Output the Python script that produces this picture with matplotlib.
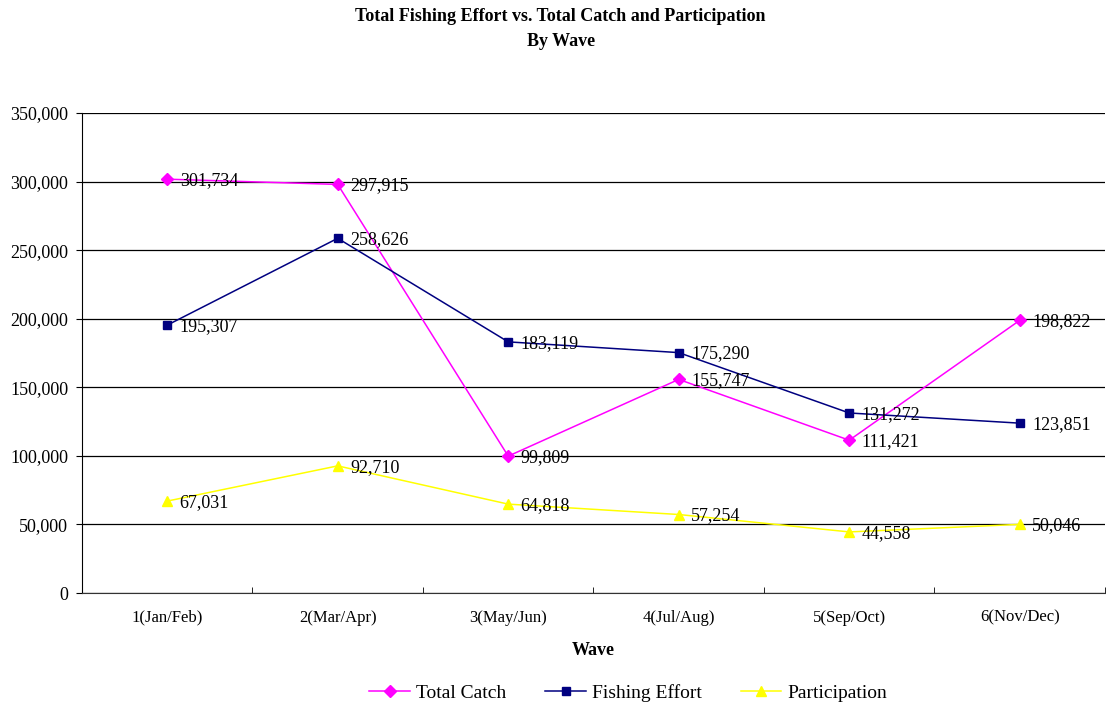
import matplotlib.pyplot as plt
import numpy as np
from matplotlib.ticker import FuncFormatter, MultipleLocator

plt.rcParams['font.family'] = ['Liberation Serif', 'DejaVu Serif']

waves = ['1(Jan/Feb)', '2(Mar/Apr)', '3(May/Jun)', '4(Jul/Aug)', '5(Sep/Oct)', '6(Nov/Dec)']
total_catch = [301734, 297915, 99809, 155747, 111421, 198822]
fishing_effort = [195307, 258626, 183119, 175290, 131272, 123851]
participation = [67031, 92710, 64818, 57254, 44558, 50046]

fig = plt.figure(figsize=(11.06, 7.07), dpi=100)
ax = fig.add_axes([0.0741, 0.1612, 0.9250, 0.6790])

x = np.arange(len(waves))
series = [
    ('Total Catch', total_catch, '#ff00ff', 'D', 6),
    ('Fishing Effort', fishing_effort, '#000080', 's', 6),
    ('Participation', participation, '#ffff00', '^', 7),
]
for name, vals, col, mk, ms in series:
    ax.plot(x, vals, color=col, marker=mk, markersize=ms, linewidth=1.1, label=name)
    for xi, v in zip(x, vals):
        ax.annotate(f'{v:,}', (xi, v), xytext=(9, -1), textcoords='offset points',
                    ha='left', va='center', fontsize=13)

ax.set_xlim(-0.5, 5.5)
ax.set_ylim(0, 350000)
ax.yaxis.set_major_locator(MultipleLocator(50000))
ax.yaxis.set_major_formatter(FuncFormatter(lambda v, p: f'{int(v):,}'))
ax.grid(axis='y', color='black', linewidth=0.9)
ax.set_axisbelow(True)
ax.set_xticks(x)
ax.set_xticklabels(waves)
ax.set_xticks(np.arange(-0.5, 6, 1), minor=True)
ax.tick_params(axis='x', which='major', length=0, pad=12, labelsize=12)
ax.tick_params(axis='x', which='minor', length=4, direction='in')
ax.tick_params(axis='y', length=4, direction='out', labelsize=13, pad=6)
for s in ['top', 'right']:
    ax.spines[s].set_visible(False)
ax.spines['bottom'].set_color('#333333')

ax.set_xlabel('Wave', fontsize=13, fontweight='bold', labelpad=12)
fig.suptitle('Total Fishing Effort vs. Total Catch and Participation\nBy Wave',
             fontsize=13, fontweight='bold', x=0.507, y=0.988, linespacing=1.55)

fig.legend(loc='center', bbox_to_anchor=(0.568, 0.02), ncol=3, frameon=False,
           fontsize=14, columnspacing=2.0, handlelength=2.1, handletextpad=0.3)

fig.savefig('out.png', dpi=100)
